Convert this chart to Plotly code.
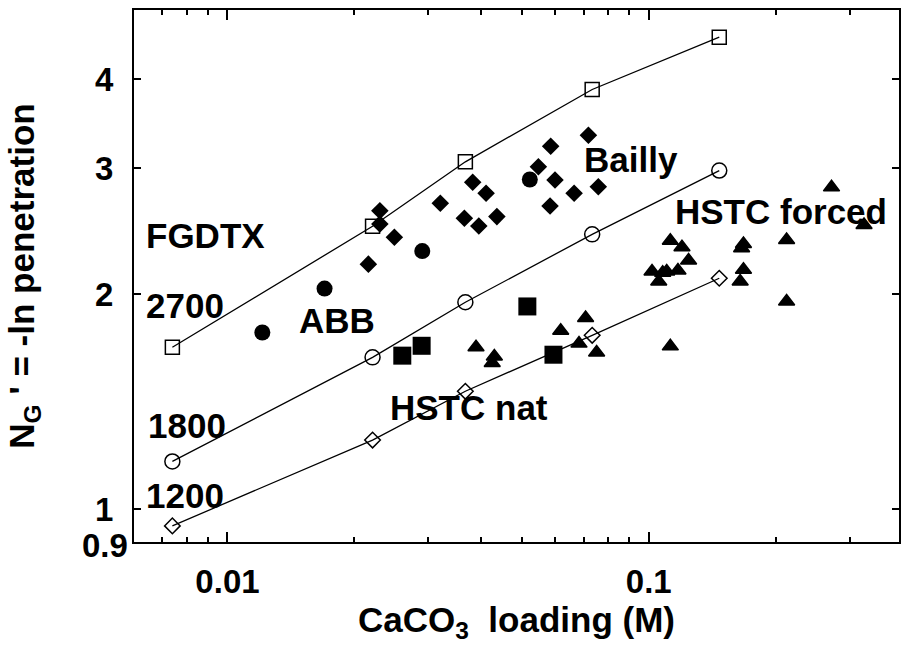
import numpy as np
import plotly.graph_objects as go

# Model curves: N_G' versus CaCO3 loading for three gas rates
model_x = [0.0074, 0.0221, 0.0367, 0.0734, 0.147]
model_2700 = [1.686, 2.49, 3.065, 3.87, 4.58]
model_1800 = [1.167, 1.632, 1.949, 2.426, 2.98]
model_1200 = [0.948, 1.25, 1.463, 1.752, 2.106]

# ABB data (filled circles)
abb_x = [0.0121, 0.0170, 0.0290, 0.0522]
abb_y = [1.768, 2.037, 2.299, 2.895]

# Bailly data (filled diamonds)
bailly_x = [0.0230, 0.0230, 0.0249, 0.0216, 0.0320, 0.0382, 0.0411, 0.0365, 0.0395,
            0.0436, 0.0547, 0.0585, 0.0599, 0.0583, 0.0665, 0.0719, 0.0759]
bailly_y = [2.618, 2.508, 2.404, 2.204, 2.682, 2.870, 2.769, 2.556, 2.493,
            2.569, 3.016, 3.223, 2.890, 2.658, 2.769, 3.340, 2.829]

# HSTC natural oxidation: filled squares and triangles
nat_sq_x = [0.0260, 0.0289, 0.0515, 0.0594]
nat_sq_y = [1.641, 1.694, 1.923, 1.646]
nat_tri_x = [0.0389, 0.0430, 0.0425, 0.0618, 0.0708, 0.0683, 0.0752, 0.1125]
nat_tri_y = [1.686, 1.637, 1.603, 1.778, 1.853, 1.706, 1.658, 1.691]

# HSTC forced oxidation: filled triangles
forced_x = [0.1125, 0.1199, 0.1243, 0.1018, 0.1079, 0.1103, 0.1173, 0.1056,
            0.1678, 0.1661, 0.1678, 0.1648, 0.2124, 0.2124, 0.2715, 0.3243]
forced_y = [2.377, 2.328, 2.230, 2.152, 2.143, 2.152, 2.159, 2.084,
            2.352, 2.320, 2.164, 2.084, 2.383, 1.954, 2.823, 2.500]

x_major = [0.01, 0.1]
x_major_text = ["0.01", "0.1"]
x_minor = [0.007, 0.008, 0.009, 0.02, 0.03, 0.04, 0.05, 0.06, 0.07, 0.08, 0.09, 0.2, 0.3]
y_ticks = [1, 2, 3, 4]

FONT = "Liberation Sans, Arial, Helvetica, sans-serif"
BLACK = "black"

fig = go.Figure()

open_line = dict(color=BLACK, width=1.3)
for ys, sym, size in [(model_2700, "square-open", 14),
                      (model_1800, "circle-open", 15),
                      (model_1200, "diamond-open", 12)]:
    fig.add_trace(go.Scatter(
        x=model_x, y=ys, mode="lines+markers", line=open_line,
        marker=dict(symbol=sym, size=size, color=BLACK, line=dict(width=1.5, color=BLACK)),
        hoverinfo="skip"))

fig.add_trace(go.Scatter(x=abb_x, y=abb_y, mode="markers",
                         marker=dict(symbol="circle", size=16, color=BLACK)))
fig.add_trace(go.Scatter(x=bailly_x, y=bailly_y, mode="markers",
                         marker=dict(symbol="diamond", size=13.5, color=BLACK)))
fig.add_trace(go.Scatter(x=nat_sq_x, y=nat_sq_y, mode="markers",
                         marker=dict(symbol="square", size=18, color=BLACK)))
tri_marker = dict(symbol="triangle-up", size=14, color=BLACK, line=dict(width=1.5, color=BLACK))
fig.add_trace(go.Scatter(x=nat_tri_x, y=nat_tri_y, mode="markers", marker=tri_marker))
fig.add_trace(go.Scatter(x=forced_x, y=forced_y, mode="markers", marker=tri_marker))

labels = [
    ("FGDTX", 0.00632, 2.414),
    ("2700", 0.00632, 1.928),
    ("ABB", 0.01462, 1.836),
    ("1800", 0.00642, 1.312),
    ("1200", 0.00632, 1.046),
    ("Bailly", 0.0694, 3.087),
    ("HSTC forced", 0.114, 2.608),
    ("HSTC nat", 0.0240, 1.39),
]
for text, lx, ly in labels:
    fig.add_annotation(x=np.log10(lx), y=np.log10(ly), xref="x", yref="y",
                       text=text, showarrow=False, xanchor="left", yanchor="middle",
                       font=dict(family=FONT, size=35, color=BLACK, weight="bold"))

# bottom-left value of the y range
fig.add_annotation(x=-0.005, y=np.log10(0.9), xref="paper", yref="y", text="0.9",
                   showarrow=False, xanchor="right", yanchor="middle", yshift=-3,
                   font=dict(family=FONT, size=33, color=BLACK, weight="bold"))

axis_common = dict(type="log", showgrid=False, zeroline=False, showline=True,
                   linewidth=2, linecolor=BLACK, mirror="ticks", ticks="inside",
                   tickcolor=BLACK, tickwidth=1.5,
                   tickfont=dict(family=FONT, size=33, color=BLACK, weight="bold"))

fig.update_xaxes(**axis_common,
                 range=[np.log10(0.006), np.log10(0.3926)],
                 tickmode="array", tickvals=x_major, ticktext=x_major_text, ticklen=10,
                 ticklabelstandoff=9,
                 minor=dict(tickmode="array", tickvals=x_minor, ticks="inside",
                            ticklen=5, tickwidth=1.5, tickcolor=BLACK, showgrid=False),
                 title=dict(text="CaCO<sub>3</sub>&nbsp; loading (M)", standoff=4,
                            font=dict(family=FONT, size=35, color=BLACK, weight="bold")))

fig.update_yaxes(**axis_common,
                 range=[np.log10(0.9), np.log10(5.0)],
                 tickmode="array", tickvals=y_ticks, ticktext=[str(v) for v in y_ticks],
                 ticklen=7, ticklabelstandoff=12,
                 title=dict(text="N<sub>G</sub> ' = -ln penetration", standoff=50,
                            font=dict(family=FONT, size=35, color=BLACK, weight="bold")))

fig.update_layout(width=901, height=652, margin=dict(l=134, r=0, t=10, b=110),
                  paper_bgcolor="white", plot_bgcolor="white", showlegend=False,
                  font=dict(family=FONT, color=BLACK))

fig.write_html("out.html")
